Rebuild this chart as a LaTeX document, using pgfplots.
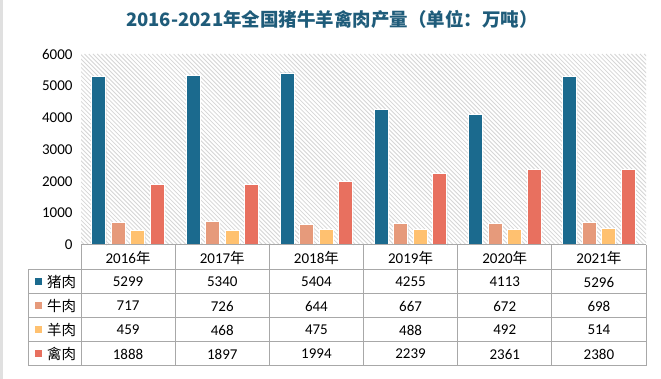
\documentclass[border=0pt]{standalone}
\usepackage{fontspec}
\setmainfont{Carlito}
\newfontfamily\cjk{Noto Sans CJK SC}
\usepackage{pgfplots}
\pgfplotsset{compat=1.18}
\usetikzlibrary{shadows}
\definecolor{blueC}{HTML}{1B6A8E}
\definecolor{salmonC}{HTML}{E69A7B}
\definecolor{yellowC}{HTML}{FFC170}
\definecolor{redC}{HTML}{E8705F}
\definecolor{titleC}{HTML}{1F5C7A}
\definecolor{tableC}{HTML}{A8A8A8}
\begin{document}
\begin{tikzpicture}[x=1pt,y=1pt]
\fill[white] (0,0) rectangle (661,379);
\fill[black!12] (0,0) rectangle (3,379);
\node[font=\cjk\bfseries\fontsize{18.5}{20}\selectfont, text=titleC] at (332,360) {2016-2021年全国猪牛羊禽肉产量（单位：万吨）};
\begin{scope}
\clip (81,134) rectangle (646,325);
\foreach \k in {0,...,180} \draw[black!16, line width=0.8pt] (81+4.24*\k-200,325) -- (81+4.24*\k,125);
\end{scope}
\begin{axis}[at={(81pt,134pt)}, anchor=south west, scale only axis,
  width=565pt, height=191pt,
  xmin=-0.5, xmax=5.5, ymin=0, ymax=6000,
  axis line style={draw=none}, xtick=\empty, ytick={0,1000,...,6000},
  major tick length=0pt,
  yticklabel style={font=\fontsize{15}{15}\selectfont, xshift=-5pt},
  /pgf/number format/assume math mode=true, /pgf/number format/1000 sep={},
  scaled y ticks=false,
  ybar, bar width=14pt,
  every axis plot/.append style={draw=white, line width=0.8pt, drop shadow={shadow xshift=0.7pt, shadow yshift=-0.7pt, opacity=0.25}},
  clip=false]
\addplot[fill=blueC, bar shift=-29.25pt] coordinates {(0,5299)(1,5340)(2,5404)(3,4255)(4,4113)(5,5296)};
\addplot[fill=salmonC, bar shift=-9.75pt] coordinates {(0,717)(1,726)(2,644)(3,667)(4,672)(5,698)};
\addplot[fill=yellowC, bar shift=9.75pt] coordinates {(0,459)(1,468)(2,475)(3,488)(4,492)(5,514)};
\addplot[fill=redC, bar shift=29.25pt] coordinates {(0,1888)(1,1897)(2,1994)(3,2239)(4,2361)(5,2380)};
\end{axis}
% table grid
\draw[line width=1pt, tableC] (81,134) -- (646,134);
\foreach \yy in {109,85,61,37,13} \draw[line width=1pt, tableC] (28,\yy) -- (646,\yy);
\draw[line width=1pt, tableC] (28,109) -- (28,13);
\foreach \i in {0,...,6} \draw[line width=1pt, tableC] (81+94.1667*\i,134) -- (81+94.1667*\i,13);
% header
\foreach \yr [count=\i from 0] in {2016,2017,2018,2019,2020,2021}
  \node[font=\fontsize{15}{15}\selectfont, inner sep=0pt] at (128.08+94.1667*\i,121.5) {\yr{\cjk\fontsize{14.5}{15}\selectfont 年}};
% rows
\foreach \vals [count=\r from 0] in {{5299,5340,5404,4255,4113,5296},{717,726,644,667,672,698},{459,468,475,488,492,514},{1888,1897,1994,2239,2361,2380}}{
  \foreach \v [count=\i from 0] in \vals
    \node[font=\fontsize{15}{15}\selectfont, inner sep=0pt] at (128.08+94.1667*\i,97-24*\r) {\v};
}
% legend column
\foreach \nm/\cc [count=\r from 0] in {猪肉/blueC,牛肉/salmonC,羊肉/yellowC,禽肉/redC}{
  \fill[\cc] (35,93.5-24*\r) rectangle (42,100.5-24*\r);
  \node[font=\cjk\fontsize{14.5}{15}\selectfont, inner sep=0pt] at (61.5,97-24*\r) {\nm};
}
\end{tikzpicture}
\end{document}
